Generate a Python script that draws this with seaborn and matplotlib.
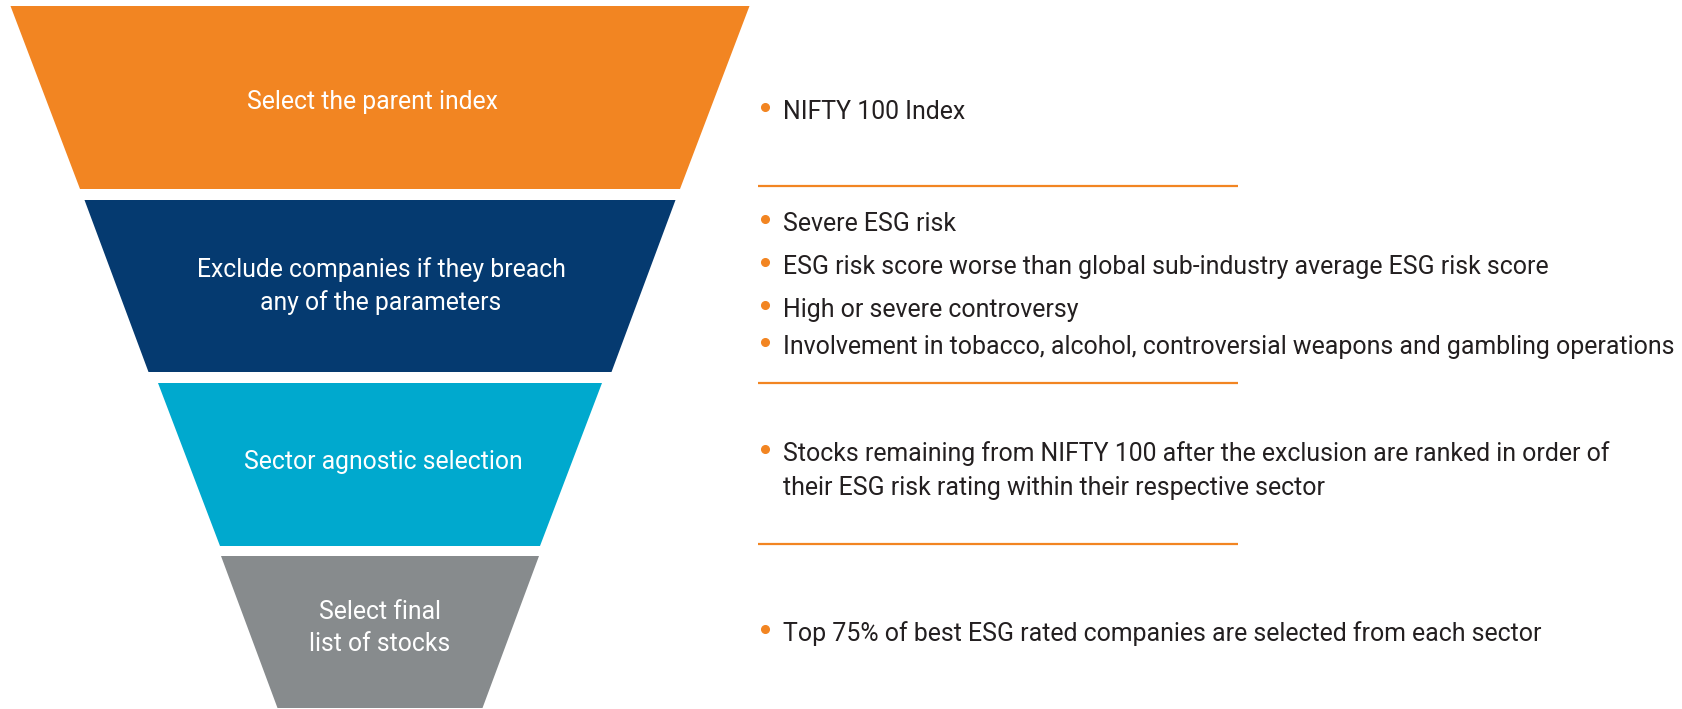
import matplotlib.pyplot as plt
import seaborn as sns

# Funnel stages (top to bottom)
stages = ["Select the parent index",
          "Exclude companies if they breach\nany of the parameters",
          "Sector agnostic selection",
          "Select final\nlist of stocks"]
stage_colors = ["#F28522", "#053A70", "#00A9CE", "#878B8D"]
top_width = [739, 591, 444, 318]
bottom_width = [600, 463, 320, 205]

# Criteria shown next to each stage (one list of bullet items per stage)
criteria = [
    ["NIFTY 100 Index"],
    ["Severe ESG risk",
     "ESG risk score worse than global sub-industry average ESG risk score",
     "High or severe controversy",
     "Involvement in tobacco, alcohol, controversial weapons and gambling operations"],
    ["Stocks remaining from NIFTY 100 after the exclusion are ranked in order of\ntheir ESG risk rating within their respective sector"],
    ["Top 75% of best ESG rated companies are selected from each sector"],
]

sns.set_theme(style="white")
plt.rcParams["font.family"] = ["Roboto", "DejaVu Sans"]

W, H = 1683, 709
fig = plt.figure(figsize=(W / 100, H / 100), dpi=100)
ax = fig.add_axes([0, 0, 1, 1])
ax.set_xlim(0, W)
ax.set_ylim(H, 0)
ax.axis("off")

# Layout (pixels)
cx = 380
bands = [(6, 189), (200, 372), (383, 546), (556, 708)]
label_dx = [-8, 1, 3, 0]
label_dy = [4, 0, -3, -4]

for name, col, tw, bw, (y0, y1), dx, dy in zip(stages, stage_colors, top_width,
                                               bottom_width, bands, label_dx, label_dy):
    xs = [cx - tw / 2, cx + tw / 2, cx + bw / 2, cx - bw / 2]
    ys = [y0, y0, y1, y1]
    ax.fill(xs, ys, color=col, lw=0)
    ax.text(cx + dx, (y0 + y1) / 2 + dy, name, color="white", fontsize=17.8,
            fontweight="normal", ha="center", va="center", linespacing=1.45)

# Right hand side bullet lists
orange = "#F28522"
item_y = [[112], [224, 267, 310, 347], [454], [634]]
line_step = 34
sep_y = [186, 383, 544]
for group, ys in zip(criteria, item_y):
    for txt, y in zip(group, ys):
        ax.plot(765, y - 5, "o", color=orange, ms=5.5)
        for k, line in enumerate(txt.split("\n")):
            ax.text(783, y + k * line_step, line, color="#231F20", fontsize=17.9,
                    ha="left", va="center")

for y in sep_y:
    ax.plot([758, 1238], [y, y], color=orange, lw=1.6, solid_capstyle="butt")

fig.savefig("out.png", dpi=100, facecolor="white")
